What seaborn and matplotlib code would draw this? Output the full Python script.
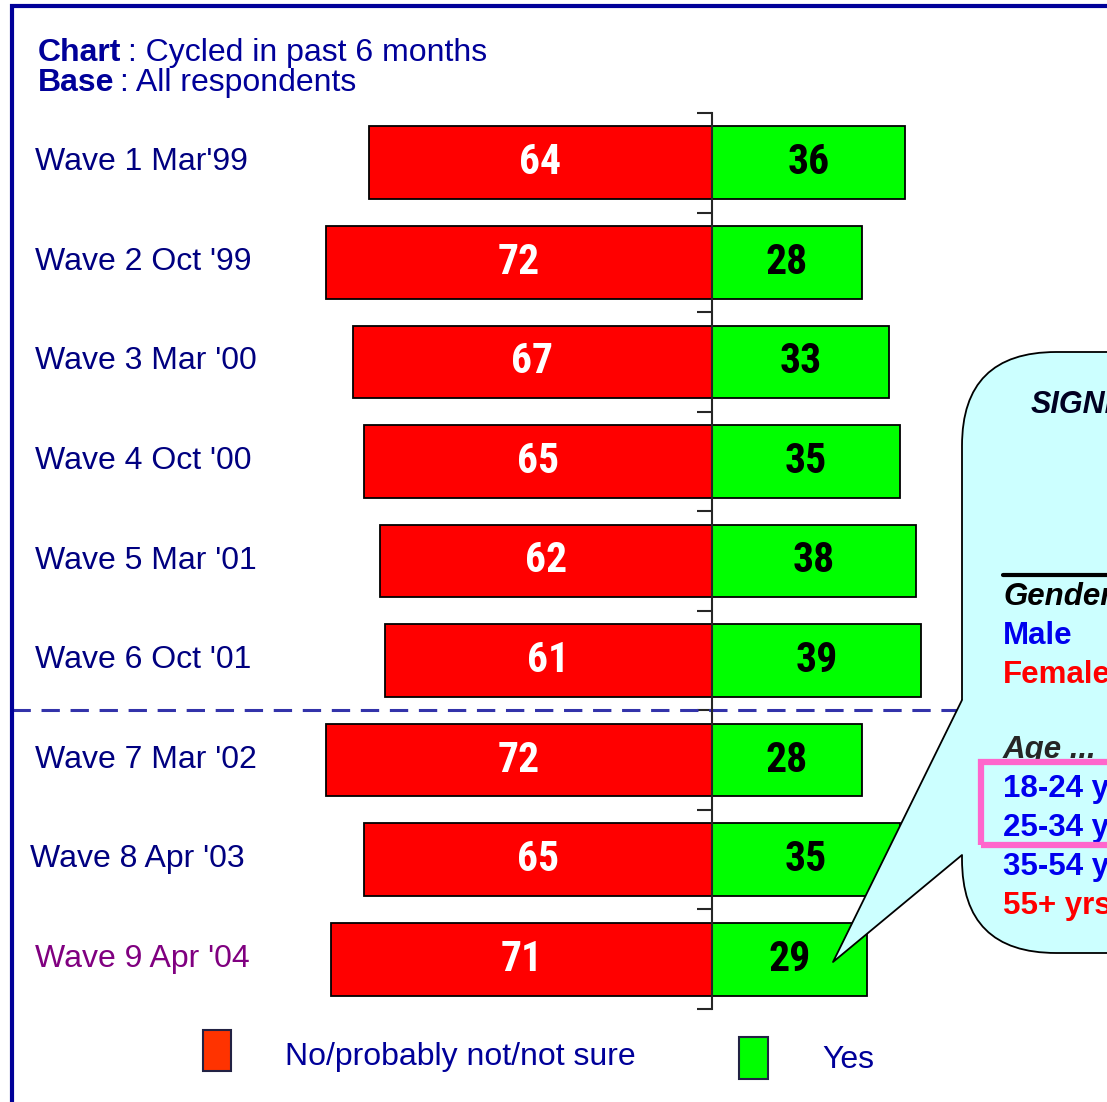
import numpy as np
import pandas as pd
import matplotlib
matplotlib.use("Agg")
import matplotlib.pyplot as plt
import matplotlib.patches as mpatches
import matplotlib.transforms as mtrans
from matplotlib import font_manager as fm
from matplotlib.lines import Line2D
import seaborn as sns

# Data
waves = ["Wave 1 Mar'99", "Wave 2 Oct '99", "Wave 3 Mar '00", "Wave 4 Oct '00",
         "Wave 5 Mar '01", "Wave 6 Oct '01", "Wave 7 Mar '02", "Wave 8 Apr '03",
         "Wave 9 Apr '04"]
no_vals = [64, 72, 67, 65, 62, 61, 72, 65, 71]
yes_vals = [36, 28, 33, 35, 38, 39, 28, 35, 29]
wave_colors = ["#000080"] * 8 + ["#800080"]
legend_labels = ["No/probably not/not sure", "Yes"]

callout_items = [("Gender", "#000000", "italic"), ("Male", "#0000ee", "normal"),
                 ("Female", "#ff0000", "normal")]
age_items = [("18-24 yrs", "#0000ee"), ("25-34 yrs", "#0000ee"),
             ("35-54 yrs", "#0000ee"), ("55+ yrs", "#ff0000")]

df = pd.DataFrame({"wave": waves, "no": [-v for v in no_vals], "yes": yes_vals})

W, H = 1107, 1102
sns.set_style("white")
plt.rcParams["font.family"] = ["Liberation Sans", "DejaVu Sans"]


# look for a narrow bold face for the bar numbers (Arial Narrow look)
def pick_narrow():
    prefs = ["Liberation Sans Narrow", "Arial Narrow", "Roboto Condensed",
             "Open Sans Condensed", "Noto Sans", "DejaVu Sans"]
    found = []
    for f in fm.fontManager.ttflist:
        w = f.weight if isinstance(f.weight, int) else 700 if "bold" in str(f.weight) else 400
        narrow = ("Narrow" in f.name or "Condensed" in f.name
                  or "ondensed" in str(f.stretch) or "Condensed" in f.fname
                  or "Narrow" in f.fname)
        if narrow and w >= 600 and f.style == "normal" and "Extra" not in f.fname \
                and "SemiCondensed" not in f.fname:
            found.append(f)
    for p in prefs:
        for f in found:
            if f.name.startswith(p):
                return fm.FontProperties(fname=f.fname)
    if found:
        return fm.FontProperties(fname=found[0].fname)
    return fm.FontProperties(family="Liberation Sans", weight="bold")


num_font = pick_narrow()
num_font.set_size(30)

fig = plt.figure(figsize=(W / 100, H / 100), dpi=100)


def fx(x):
    return x / W


def fy(y):
    return 1 - y / H


# axes placed so that zero sits at x=712 px, 5.36 px per percent
ppu = 5.36
xmin, xmax = -80, 55
left_px = 712 + xmin * ppu
ax = fig.add_axes([fx(left_px), fy(1009), (xmax - xmin) * ppu / W, 896 / H])

sns.barplot(data=df, x="no", y="wave", color="#ff0000", orient="h", width=0.73,
            edgecolor="black", linewidth=1.3, saturation=1, ax=ax)
sns.barplot(data=df, x="yes", y="wave", color="#00ff00", orient="h", width=0.73,
            edgecolor="black", linewidth=1.3, saturation=1, ax=ax)
ax.set_xlim(xmin, xmax)
ax.set_ylim(len(waves) - 0.5, -0.5)
ax.set_xlabel("")
ax.set_ylabel("")
ax.set_xticks([])
for s in ["top", "right", "bottom"]:
    ax.spines[s].set_visible(False)
ax.spines["left"].set_position(("data", 0))
ax.spines["left"].set_linewidth(1.5)
ax.spines["left"].set_zorder(5)
ax.set_yticks(np.arange(-0.5, len(waves), 1.0))
ax.set_yticklabels([])
ax.tick_params(axis="y", direction="out", length=11, width=1.5, left=True)
ax.patch.set_alpha(0)

# value labels
for i, (n, y) in enumerate(zip(no_vals, yes_vals)):
    ax.text(-n / 2, i, str(n), ha="center", va="center", color="white",
            fontproperties=num_font)
    ax.text(y / 2, i, str(y), ha="center", va="center", color="black",
            fontproperties=num_font)

# category labels
tr = mtrans.blended_transform_factory(fig.transFigure, ax.transData)
for i, (w, c) in enumerate(zip(waves, wave_colors)):
    xpos = fx(30) if i == 7 else fx(35)
    ax.text(xpos, i - 0.005, w, transform=tr, ha="left", va="center", color=c,
            fontsize=23, clip_on=False)

# dashed separator between wave 6 and 7
pos = ax.get_position()
ax.axhline(5.5, xmin=(fx(12) - pos.x0) / pos.width, xmax=(fx(962) - pos.x0) / pos.width,
           color="#3333aa", linestyle=(0, (6, 3.5)), linewidth=2.2, clip_on=False, zorder=1)

# frame
fig.add_artist(mpatches.Rectangle((fx(12), fy(1140)), fx(1200), fy(6) - fy(1140),
                                  transform=fig.transFigure, fill=False,
                                  edgecolor="#000099", linewidth=3))

# title
fig.text(fx(38), fy(53), "Chart", color="#000099", fontsize=23, fontweight="bold", va="center")
fig.text(fx(128), fy(53), ": Cycled in past 6 months", color="#000099", fontsize=23, va="center")
fig.text(fx(38), fy(83), "Base", color="#000099", fontsize=23, fontweight="bold", va="center")
fig.text(fx(120), fy(83), ": All respondents", color="#000099", fontsize=23, va="center")

# legend
fig.add_artist(mpatches.Rectangle((fx(203), fy(1071)), fx(28), fy(1030) - fy(1071),
                                  transform=fig.transFigure, facecolor="#ff3300",
                                  edgecolor="#222244", linewidth=1.5))
fig.text(fx(285), fy(1057), legend_labels[0], color="#000099", fontsize=23, va="center")
fig.add_artist(mpatches.Rectangle((fx(739), fy(1079)), fx(29), fy(1037) - fy(1079),
                                  transform=fig.transFigure, facecolor="#00ff00",
                                  edgecolor="#222244", linewidth=1.5))
fig.text(fx(822), fy(1060), legend_labels[1], color="#000099", fontsize=23, va="center")

# callout box
cyan = "#ccffff"
box = mpatches.FancyBboxPatch((fx(962), fy(953)), fx(300), fy(352) - fy(953),
                              boxstyle="round,pad=0,rounding_size=0.085",
                              transform=fig.transFigure, facecolor=cyan,
                              edgecolor="black", linewidth=1.3, zorder=3)
fig.add_artist(box)
tail = mpatches.Polygon([(fx(972), fy(698)), (fx(962), fy(700)), (fx(833), fy(962)),
                         (fx(962), fy(855)), (fx(972), fy(857))],
                        closed=True, transform=fig.transFigure, facecolor=cyan,
                        edgecolor="none", zorder=4)
fig.add_artist(tail)
fig.add_artist(Line2D([fx(962), fx(833), fx(962)], [fy(700), fy(962), fy(855)],
                      transform=fig.transFigure, color="black", linewidth=1.3, zorder=4))

fig.text(fx(1031), fy(405), "SIGNIFICANT", fontsize=22, fontweight="bold", style="italic",
         color="#000022", va="center", zorder=6)
fig.add_artist(Line2D([fx(1003), fx(1120)], [fy(575), fy(575)], transform=fig.transFigure,
                      color="black", linewidth=3, zorder=6))
for j, (t, c, st) in enumerate(callout_items):
    fig.text(fx(1003), fy(597 + 39 * j), t, color=c, fontsize=22.5, fontweight="bold",
             style=st, va="center", zorder=6)
fig.text(fx(1003), fy(750), "Age ...", fontsize=22.5, fontweight="bold", style="italic",
         va="center", zorder=6)
for j, (t, c) in enumerate(age_items):
    fig.text(fx(1003), fy(789 + 39 * j), t, color=c, fontsize=22.5, fontweight="bold",
             va="center", zorder=6)
fig.add_artist(mpatches.Rectangle((fx(981), fy(845)), fx(200), fy(762) - fy(845),
                                  transform=fig.transFigure, fill=False,
                                  edgecolor="#ff66cc", linewidth=4.5, zorder=7))

fig.savefig("out.png", dpi=100)
